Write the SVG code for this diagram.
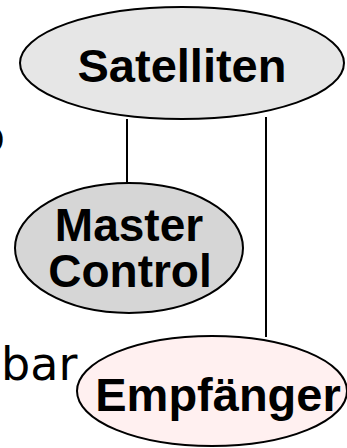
<svg xmlns="http://www.w3.org/2000/svg" width="347" height="448" viewBox="0 0 347 448">
<style>
.node{stroke:#000;stroke-width:2}
.lbl{font-family:"Liberation Sans",Arial,sans-serif;font-weight:bold;font-size:47px;fill:#000;text-anchor:middle}
.mc{font-size:46px}
.plain{font-family:"DejaVu Sans",Verdana,sans-serif;font-size:46px;fill:#000}
.conn{stroke:#000;stroke-width:2;fill:none}
</style>
<rect width="347" height="448" fill="#fff"/>
<text class="plain" x="-23" y="152">o</text>
<text class="plain" x="1" y="380">bar</text>
<g id="connectors">
<line class="conn" x1="127" y1="119" x2="127" y2="183"/>
<line class="conn" x1="266" y1="117" x2="266" y2="337"/>
</g>
<g id="satelliten">
<ellipse class="node" cx="182" cy="63" rx="162" ry="56" fill="#e6e6e6"/>
<text class="lbl" x="182" y="82">Satelliten</text>
</g>
<g id="master-control">
<ellipse class="node" cx="129" cy="248" rx="114" ry="65" fill="#d6d6d6"/>
<text class="lbl mc" x="129" y="241">Master</text>
<text class="lbl mc" x="130" y="287">Control</text>
</g>
<g id="empfaenger">
<ellipse class="node" cx="212" cy="391" rx="135" ry="55" fill="#fff0f0"/>
<text class="lbl" x="218" y="411">Empfänger</text>
</g>
</svg>
